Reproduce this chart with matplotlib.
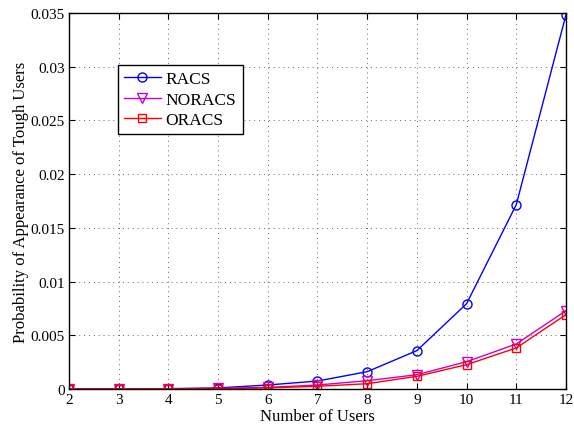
import matplotlib
matplotlib.use('Agg')
from matplotlib import pyplot as plt

# Data
users = [2, 3, 4, 5, 6, 7, 8, 9, 10, 11, 12]
racs = [0.0, 0.00001, 0.00003, 0.0001, 0.00037, 0.00074, 0.00161, 0.00357, 0.00794, 0.01716, 0.03484]
noracs = [0.0, 0.00001, 0.00002, 0.00005, 0.00015, 0.00037, 0.00077, 0.00133, 0.00254, 0.00419, 0.00729]
oracs = [0.0, 0.0, 0.00001, 0.00003, 0.0001, 0.00025, 0.00049, 0.00118, 0.00226, 0.00382, 0.00692]

yticks = [0, 0.005, 0.01, 0.015, 0.02, 0.025, 0.03, 0.035]
ytick_labels = ['0', '0.005', '0.01', '0.015', '0.02', '0.025', '0.03', '0.035']

plt.rcParams['font.family'] = ['Liberation Serif', 'DejaVu Serif']

fig = plt.figure(figsize=(5.74, 4.27), dpi=100)
ax = fig.add_axes([0.1202, 0.0867, 0.8658, 0.8803])

ax.plot(users, racs, '-o', color='blue', mfc='none', ms=6.5, lw=1, label='RACS')
ax.plot(users, noracs, '-v', color='#cc00cc', mfc='none', ms=6.5, lw=1, label='NORACS')
ax.plot(users, oracs, '-s', color='red', mfc='none', ms=6, lw=1, label='ORACS')

ax.set_xlim(2, 12)
ax.set_ylim(0, 0.035)
ax.set_xticks(users)
ax.set_yticks(yticks)
ax.set_yticklabels(ytick_labels)
ax.tick_params(direction='in', top=True, right=True, labelsize=11, length=4, pad=3)
ax.grid(True, linestyle=(0, (1, 4)), color='#666666', linewidth=0.7)
for s in ax.spines.values():
    s.set_linewidth(1)

ax.set_xlabel('Number of Users', fontsize=12, labelpad=1)
ax.set_ylabel('Probability of Appearance of Tough Users', fontsize=12, labelpad=1)

leg = ax.legend(loc='upper left', bbox_to_anchor=(0.0986, 0.862), fontsize=12.5,
                frameon=True, fancybox=False, edgecolor='black', framealpha=1,
                borderpad=0.35, handlelength=2.1, handletextpad=0.3,
                labelspacing=0.25, borderaxespad=0)
leg.get_frame().set_linewidth(1)

fig.savefig('out.png', dpi=100)
